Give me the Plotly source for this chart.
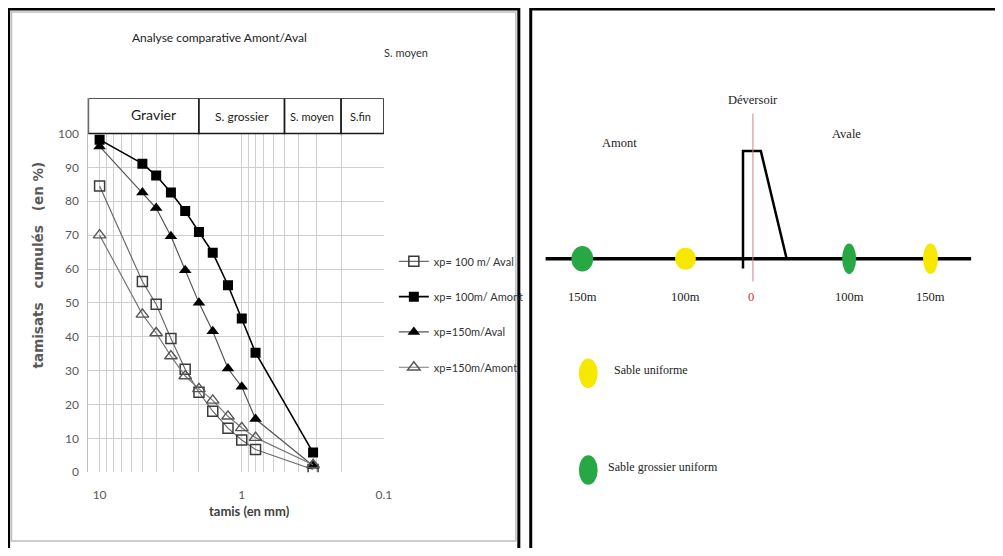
import math
import plotly.graph_objects as go

W, H = 1003, 556          # browser window
OFF = 8                   # default body margin of the page
FW, FH = W - 2 * OFF, H - 2 * OFF   # figure size so the page does not overflow

# ---------------- data (left chart) ----------------
SIEVES = [10, 5, 4, 3.15, 2.5, 2, 1.6, 1.25, 1, 0.8, 0.315]
AVAL_100 = [84.5, 56.3, 49.6, 39.5, 30.4, 23.6, 18.0, 13.0, 9.5, 6.7, 0.8]
AMONT_100 = [98.2, 91.1, 87.6, 82.6, 77.1, 70.9, 64.8, 55.2, 45.4, 35.3, 5.8]
AVAL_150 = [96.2, 82.6, 78.0, 69.7, 59.6, 50.0, 41.6, 30.6, 25.2, 15.7, 1.9]
AMONT_150 = [70.0, 46.6, 41.1, 34.3, 28.4, 24.6, 21.2, 16.5, 13.1, 10.2, 2.2]
SERIES_NAMES = ["xp= 100 m/ Aval", "xp= 100m/ Amont", "xp=150m/Aval", "xp=150m/Amont"]

X_GRID = [10, 9, 8, 7, 6, 5, 4, 3, 2, 1, 0.9, 0.8, 0.7, 0.6, 0.5, 0.4, 0.3, 0.2, 0.1]
X_LABELS = {10: "10", 1: "1", 0.1: "0.1"}
Y_TICKS = [0, 10, 20, 30, 40, 50, 60, 70, 80, 90, 100]

# sediment classes (upper / lower sieve bound in mm)
CLASS_NAMES = ["Gravier", "S. grossier", "S. moyen", "S.fin"]
CLASS_BOUNDS = [(12, 2), (2, 0.5), (0.5, 0.2), (0.2, 0.1)]
CLASS_LABEL_X = [4.2, 1.0, 0.32, 0.145]
CLASS_LABEL_Y = [105.6, 104.9, 105.0, 104.9]
CLASS_FONT = [14, 12, 11, 11]

# ---------------- data (right schematic) ----------------
STATION_LABELS = ["150m", "100m", "0", "100m", "150m"]
STATION_X = [587, 691, 757, 856, 938]
DOT_STATIONS = [0, 1, 3, 4]
DOT_COLORS = ["#27a844", "#f7e800", "#27a844", "#f7e800"]
DOT_W = [22, 21, 14, 15]
DOT_H = [26, 22, 31, 31]
GROUND_X = [550, 979]
GROUND_Y = 262
DAM_X = [749, 749, 767, 793]
DAM_Y = [272, 153, 153, 262]
AXIS0_Y = [115, 285]
KEY_LABELS = ["Sable uniforme", "Sable grossier uniform"]
KEY_COLORS = ["#f7e800", "#27a844"]
KEY_Y = [378, 476]

SERIF = "Liberation Serif, Times New Roman, serif"
NARROW = "Lato, Liberation Sans, sans-serif"


def PX(x):
    return (x - OFF) / FW


def PY(y):
    return 1 - (y - OFF) / FH


fig = go.Figure()

styles = [
    dict(symbol="square-open", size=10, color="#3a3a3a", lw=1.5, line_color="#6a6a6a", line_w=1.2),
    dict(symbol="square", size=10, color="#000000", lw=0, line_color="#000000", line_w=1.6),
    dict(symbol="triangle-up", size=11, color="#000000", lw=0, line_color="#555555", line_w=1.2),
    dict(symbol="triangle-up-open", size=11, color="#555555", lw=1.4, line_color="#777777", line_w=1.2),
]
for i, (name, vals) in enumerate(zip(SERIES_NAMES, [AVAL_100, AMONT_100, AVAL_150, AMONT_150])):
    s = styles[i]
    fig.add_trace(go.Scatter(
        x=SIEVES, y=vals, name=name, mode="lines+markers",
        legendgroup=f"g{i}",
        line=dict(color=s["line_color"], width=s["line_w"]),
        marker=dict(symbol=s["symbol"], size=s["size"], color=s["color"],
                    line=dict(color=s["color"], width=s["lw"])),
        xaxis="x", yaxis="y",
    ))

# ---------------- right schematic traces ----------------
fig.add_trace(go.Scatter(x=GROUND_X, y=[GROUND_Y, GROUND_Y], mode="lines",
                         line=dict(color="black", width=3.5), showlegend=False,
                         xaxis="x2", yaxis="y2", hoverinfo="skip"))
fig.add_trace(go.Scatter(x=DAM_X, y=DAM_Y, mode="lines",
                         line=dict(color="black", width=2.5), showlegend=False,
                         xaxis="x2", yaxis="y2", hoverinfo="skip"))
fig.add_trace(go.Scatter(x=[STATION_X[2] + 2, STATION_X[2] + 2], y=AXIS0_Y, mode="lines",
                         line=dict(color="#d9808a", width=1), showlegend=False,
                         xaxis="x2", yaxis="y2", hoverinfo="skip"))

shapes = []
for k, si in enumerate(DOT_STATIONS):
    cx = STATION_X[si]
    shapes.append(dict(type="circle", xref="x2", yref="y2",
                       x0=cx - DOT_W[k] / 2, x1=cx + DOT_W[k] / 2,
                       y0=GROUND_Y - DOT_H[k] / 2, y1=GROUND_Y + DOT_H[k] / 2,
                       fillcolor=DOT_COLORS[k], line=dict(width=0), layer="above"))
for k in range(2):
    shapes.append(dict(type="circle", xref="x2", yref="y2",
                       x0=593 - 9.5, x1=593 + 9.5, y0=KEY_Y[k] - 15, y1=KEY_Y[k] + 15,
                       fillcolor=KEY_COLORS[k], line=dict(width=0)))

for (hi, lo) in CLASS_BOUNDS:
    shapes.append(dict(type="rect", xref="x", yref="y", x0=hi, x1=lo, y0=100, y1=110.4,
                       fillcolor="white", line=dict(color="#1a1a1a", width=1.6), layer="above"))

# panel frames
shapes.append(dict(type="rect", xref="paper", yref="paper",
                   x0=PX(11.5), x1=PX(520), y0=PY(548), y1=PY(12),
                   line=dict(color="#bdbdbd", width=1.5)))
shapes.append(dict(type="rect", xref="paper", yref="paper",
                   x0=PX(8.6), x1=PX(523), y0=PY(566), y1=PY(9),
                   line=dict(color="black", width=3)))
shapes.append(dict(type="rect", xref="paper", yref="paper",
                   x0=PX(535), x1=PX(1012), y0=PY(566), y1=PY(9),
                   line=dict(color="black", width=3)))

annotations = []
for name, lx, ly, fs in zip(CLASS_NAMES, CLASS_LABEL_X, CLASS_LABEL_Y, CLASS_FONT):
    annotations.append(dict(text=name, xref="x", yref="y",
                            x=math.log10(lx), y=ly, xanchor="center", yanchor="middle",
                            showarrow=False, font=dict(family=NARROW, size=fs, color="#222")))

annotations += [
    dict(text="Analyse comparative Amont/Aval", xref="paper", yref="paper",
         x=PX(221), y=PY(38), xanchor="center", yanchor="middle", showarrow=False,
         font=dict(family=NARROW, size=12, color="#222")),
    dict(text="S. moyen", xref="paper", yref="paper", x=PX(409), y=PY(53),
         xanchor="center", yanchor="middle",
         showarrow=False, font=dict(family=NARROW, size=11, color="#333")),
    dict(text="tamisats\u00a0\u00a0\u00a0cumulés\u00a0\u00a0\u00a0(en\u00a0%)",
         xref="paper", yref="paper",
         x=PX(38), y=PY(268), xanchor="center", yanchor="middle", textangle=-90, showarrow=False,
         font=dict(family="DejaVu Sans, sans-serif", size=13.5, color="#595959", weight="bold")),
    dict(text="tamis (en mm)", xref="paper", yref="paper", x=PX(251), y=PY(518),
         xanchor="center", yanchor="middle",
         showarrow=False, font=dict(family=NARROW, size=13, color="#404040", weight="bold")),
]

annotations += [
    dict(text="Déversoir", xref="x2", yref="y2", x=759, y=101, showarrow=False,
         font=dict(family=SERIF, size=12.5, color="#222")),
    dict(text="Amont", xref="x2", yref="y2", x=625, y=145, showarrow=False,
         font=dict(family=SERIF, size=12.5, color="#222")),
    dict(text="Avale", xref="x2", yref="y2", x=853, y=136, showarrow=False,
         font=dict(family=SERIF, size=12.5, color="#222")),
]
for lab, sx in zip(STATION_LABELS, STATION_X):
    annotations.append(dict(text=lab, xref="x2", yref="y2", x=sx, y=301, showarrow=False,
                            font=dict(family=SERIF, size=12.5,
                                      color="#d03030" if lab == "0" else "#222")))
for lab, ky, kx in zip(KEY_LABELS, KEY_Y, [617, 611]):
    annotations.append(dict(text=lab, xref="x2", yref="y2", x=kx, y=ky - 3, xanchor="left",
                            showarrow=False, font=dict(family=SERIF, size=12, color="#222")))

fig.update_layout(
    width=FW, height=FH,
    margin=dict(l=0, r=0, t=0, b=0),
    paper_bgcolor="white",
    plot_bgcolor="rgba(0,0,0,0)",
    showlegend=True,
    legend=dict(x=PX(397), y=PY(250), xanchor="left", yanchor="top",
                bgcolor="rgba(0,0,0,0)", tracegroupgap=16.3,
                font=dict(family=NARROW, size=11, color="#333")),
    xaxis=dict(type="log", domain=[PX(89), PX(387)],
               range=[math.log10(12), -1], autorange=False,
               tickvals=X_GRID, ticktext=[X_LABELS.get(v, "") for v in X_GRID],
               showgrid=True, gridcolor="#cfcfcf", gridwidth=1,
               zeroline=False, showline=False, ticks="",
               ticklabelstandoff=14,
               tickfont=dict(family=NARROW, size=12, color="#595959"),
               anchor="y"),
    yaxis=dict(domain=[PY(478.3), PY(99.5)], range=[0, 110.4], autorange=False,
               tickvals=Y_TICKS, showgrid=True, gridcolor="#cfcfcf", gridwidth=1,
               zeroline=False, showline=True, linecolor="#bdbdbd", linewidth=1,
               ticks="", ticklabelstandoff=6,
               tickfont=dict(family=NARROW, size=12, color="#595959"),
               anchor="x"),
    xaxis2=dict(domain=[PX(535), 1], range=[535, W - OFF], visible=False, anchor="y2"),
    yaxis2=dict(domain=[0, 1], range=[H - OFF, OFF], visible=False, anchor="x2"),
    shapes=shapes,
    annotations=annotations,
)

fig.write_html("out.html", config={"displayModeBar": False})
